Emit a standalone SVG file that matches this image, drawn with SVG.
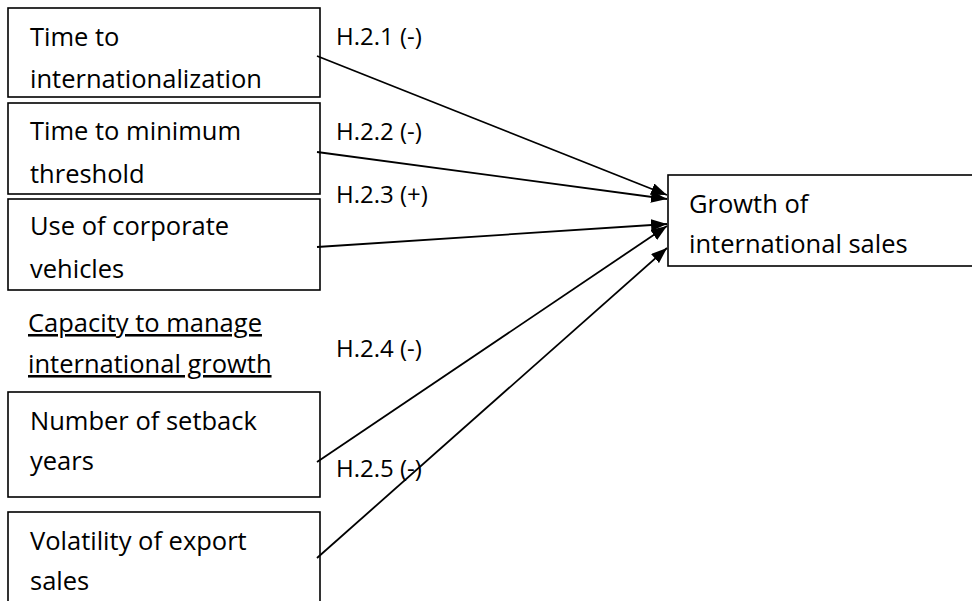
<svg xmlns="http://www.w3.org/2000/svg" width="972" height="601" viewBox="0 0 972 601">
<style>
.box{fill:#fff;stroke:#000;stroke-width:1.6}
.t{font-family:"Open Sans","Noto Sans",sans-serif;font-size:25.5px;fill:#000}
.l{font-family:"Open Sans","Noto Sans",sans-serif;font-size:24px;fill:#000}
.c{stroke:#000;stroke-width:1.8;fill:none;marker-end:url(#ah)}
</style>
<defs>
<marker id="ah" viewBox="0 0 16 12" refX="16" refY="6" markerWidth="16" markerHeight="12" markerUnits="userSpaceOnUse" orient="auto">
<path d="M0,0 L16,6 L0,12 z" fill="#000"/>
</marker>
</defs>
<rect width="972" height="601" fill="#fff"/>
<g id="n1"><rect class="box" x="8" y="8" width="312" height="89"/><text class="t" x="30" y="46">Time to</text><text class="t" x="30" y="88">internationalization</text></g>
<g id="n2"><rect class="box" x="8" y="103" width="312" height="91"/><text class="t" x="30" y="140">Time to minimum</text><text class="t" x="30" y="183">threshold</text></g>
<g id="n3"><rect class="box" x="8" y="199" width="312" height="91"/><text class="t" x="30" y="235">Use of corporate</text><text class="t" x="30" y="278">vehicles</text></g>
<g id="cap"><text class="t" x="28" y="332" text-decoration="underline">Capacity to manage</text><text class="t" x="28" y="373" text-decoration="underline">international growth</text></g>
<g id="n4"><rect class="box" x="8" y="392" width="312" height="105"/><text class="t" x="30" y="430">Number of setback</text><text class="t" x="30" y="470">years</text></g>
<g id="n5"><rect class="box" x="8" y="512" width="312" height="100"/><text class="t" x="30" y="550">Volatility of export</text><text class="t" x="30" y="590">sales</text></g>
<g id="out"><rect class="box" x="668" y="175" width="310" height="91"/><text class="t" x="689" y="213">Growth of</text><text class="t" x="689" y="253">international sales</text></g>
<g id="connectors">
<line class="c" x1="317" y1="56" x2="667" y2="195"/>
<line class="c" x1="317" y1="152" x2="667" y2="199"/>
<line class="c" x1="317" y1="247" x2="667" y2="224"/>
<line class="c" x1="317" y1="462" x2="667" y2="226"/>
<line class="c" x1="317" y1="558" x2="667" y2="248"/>
</g>
<g id="labels">
<text class="l" x="336" y="45">H.2.1 (-)</text>
<text class="l" x="336" y="140">H.2.2 (-)</text>
<text class="l" x="336" y="203">H.2.3 (+)</text>
<text class="l" x="336" y="357">H.2.4 (-)</text>
<text class="l" x="336" y="477">H.2.5 (-)</text>
</g>
</svg>
